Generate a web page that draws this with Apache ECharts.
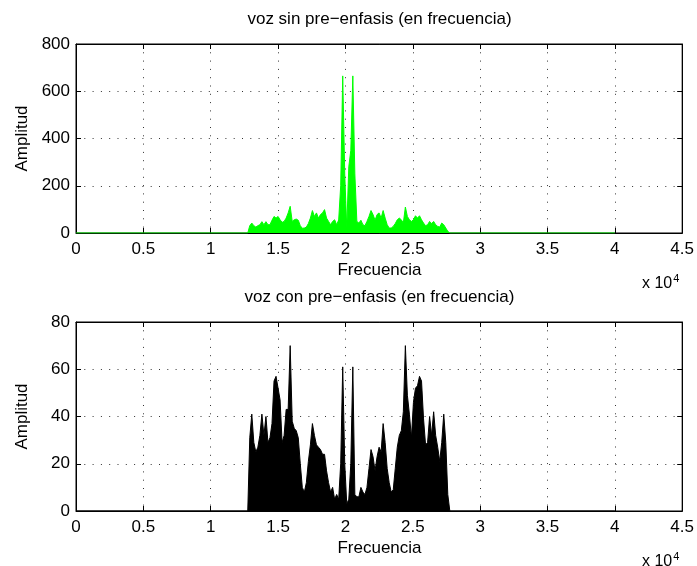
<!DOCTYPE html>
<html>
<head>
<meta charset="utf-8">
<script src="https://cdn.jsdelivr.net/npm/echarts@6/dist/echarts.min.js"></script>
<style>
  html, body { margin: 0; padding: 0; background: #fff; }
  #chart { width: 697px; height: 566px; }
</style>
</head>
<body>
<div id="chart"></div>
<script>
// Spectrum magnitude sampled on a regular frequency grid (Hz)
const freqStart = 12750;
const freqStep = 150;
const freqEnd = 40000;

// Speech spectrum without pre-emphasis
const ampSin = [
  0, 31, 42, 31, 25, 31, 35, 48, 35, 48,
  35, 35, 54, 70, 63, 70, 56, 45, 49, 63,
  85, 113, 49, 56, 59, 54, 31, 20, 21, 25,
  40, 63, 95, 70, 85, 63, 78, 85, 99, 63,
  49, 35, 49, 56, 35, 55, 200, 665, 250, 20,
  280, 350, 665, 250, 49, 42, 54, 35, 31, 49,
  70, 95, 78, 54, 78, 85, 63, 95, 63, 35,
  21, 21, 28, 40, 56, 63, 56, 42, 110, 70,
  56, 49, 56, 73, 63, 73, 56, 42, 31, 35,
  49, 40, 49, 35, 28, 25, 42, 35, 21, 7,
  0
];

// Speech spectrum with pre-emphasis
const ampCon = [
  0, 31, 41, 29, 25, 27, 32, 41, 32, 40,
  29, 31, 37, 55, 57, 52, 47, 29, 32, 43,
  43, 70, 38, 35, 34, 31, 20, 10, 8, 12,
  21, 28, 37, 32, 28, 27, 26, 24, 24, 17,
  12, 8, 10, 5, 7, 5, 20, 61, 20, 3,
  5, 20, 61, 7, 6, 6, 10, 8, 7, 10,
  18, 26, 23, 17, 23, 27, 25, 37, 29, 18,
  12, 8, 9, 18, 27, 32, 34, 42, 70, 49,
  41, 31, 46, 52, 53, 57, 55, 39, 28, 29,
  40, 32, 42, 32, 27, 21, 29, 41, 29, 7,
  0
];

const titles = ['voz sin pre\u2212enfasis (en frecuencia)', 'voz con pre\u2212enfasis (en frecuencia)'];
const xLabel = 'Frecuencia';
const yLabel = 'Amplitud';
const xMax = 45000, xInterval = 5000;
const yMaxes = [800, 80], yIntervals = [200, 20];

function toPoints(amps) {
  const pts = [[0, 0]];
  amps.forEach((v, i) => pts.push([freqStart + i * freqStep, v]));
  pts.push([freqEnd, 0]);
  return pts;
}

const FONT = '"Liberation Sans", Arial, Helvetica, sans-serif';
const grids = [
  { left: 76, top: 44, width: 607, height: 189 },
  { left: 76, top: 322, width: 607, height: 189 }
];

const dotted = { color: '#333', width: 1, type: [1, 7.3] };

const xAxes = [], yAxes = [];
grids.forEach((g, gi) => {
  xAxes.push({
    type: 'value', gridIndex: gi, min: 0, max: xMax, interval: xInterval, position: 'bottom',
    axisLine: { show: true, onZero: false, lineStyle: { color: '#000', width: 1 } },
    axisTick: { show: true, inside: true, length: 5, lineStyle: { color: '#000' } },
    axisLabel: { color: '#000', fontFamily: FONT, fontSize: 17, margin: 8,
      formatter: v => String(v / 10000) },
    splitLine: { show: true, lineStyle: dotted }
  });
  xAxes.push({
    type: 'value', gridIndex: gi, min: 0, max: xMax, interval: xInterval, position: 'top',
    axisLine: { show: true, onZero: false, lineStyle: { color: '#000', width: 1 } },
    axisTick: { show: true, inside: true, length: 5, lineStyle: { color: '#000' } },
    axisLabel: { show: false }, splitLine: { show: false }
  });
  yAxes.push({
    type: 'value', gridIndex: gi, min: 0, max: yMaxes[gi], interval: yIntervals[gi], position: 'left',
    axisLine: { show: true, onZero: false, lineStyle: { color: '#000', width: 1 } },
    axisTick: { show: true, inside: true, length: 5, lineStyle: { color: '#000' } },
    axisLabel: { color: '#000', fontFamily: FONT, fontSize: 17, margin: 6 },
    splitLine: { show: true, lineStyle: dotted }
  });
  yAxes.push({
    type: 'value', gridIndex: gi, min: 0, max: yMaxes[gi], interval: yIntervals[gi], position: 'right',
    axisLine: { show: true, onZero: false, lineStyle: { color: '#000', width: 1 } },
    axisTick: { show: true, inside: true, length: 5, lineStyle: { color: '#000' } },
    axisLabel: { show: false }, splitLine: { show: false }
  });
});

const textStyle = (txt, x, y, size) => ({
  type: 'text', x: x, y: y,
  style: { text: txt, fontFamily: FONT, fontSize: size, fill: '#000', align: 'center', verticalAlign: 'middle' }
});

const graphics = [];
[0, 1].forEach(gi => {
  const g = grids[gi];
  const cx = g.left + g.width / 2;
  graphics.push(textStyle(titles[gi], cx, g.top - 25, 17));
  graphics.push(textStyle(xLabel, cx, g.top + g.height + 37, 17));
  graphics.push({
    type: 'text', x: 22, y: g.top + g.height / 2, rotation: Math.PI / 2,
    style: { text: yLabel, fontFamily: FONT, fontSize: 17, fill: '#000', align: 'center', verticalAlign: 'middle' }
  });
  graphics.push({
    type: 'text', x: 642, y: g.top + g.height + 51,
    style: {
      text: '{b|x 10}{s|4}', fontFamily: FONT, fill: '#000', verticalAlign: 'middle',
      rich: {
        b: { fontFamily: FONT, fontSize: 16, fill: '#000' },
        s: { fontFamily: FONT, fontSize: 11, fill: '#000', verticalAlign: 'top', padding: [0, 0, 10, 1] }
      }
    }
  });
});

const chart = echarts.init(document.getElementById('chart'), null, { renderer: 'canvas' });
chart.setOption({
  animation: false,
  backgroundColor: '#fff',
  grid: grids.map(g => Object.assign({ show: true, borderColor: '#000', borderWidth: 1, backgroundColor: '#fff' }, g)),
  xAxis: xAxes,
  yAxis: yAxes,
  graphic: graphics,
  series: [
    {
      type: 'line', xAxisIndex: 0, yAxisIndex: 0, data: toPoints(ampSin),
      showSymbol: false, symbol: 'none', smooth: false,
      lineStyle: { color: '#00ff00', width: 1 },
      areaStyle: { color: '#00ff00', opacity: 1, origin: 'start' }
    },
    {
      type: 'line', xAxisIndex: 2, yAxisIndex: 2, data: toPoints(ampCon),
      showSymbol: false, symbol: 'none', smooth: false,
      lineStyle: { color: '#000000', width: 1 },
      areaStyle: { color: '#000000', opacity: 1, origin: 'start' }
    }
  ]
});
</script>
</body>
</html>
